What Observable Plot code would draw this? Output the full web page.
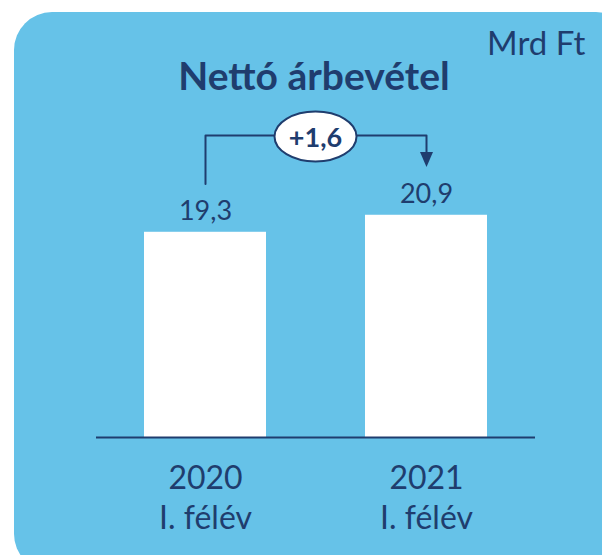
<!DOCTYPE html>
<html><head><meta charset="utf-8">
<script src="https://cdn.jsdelivr.net/npm/d3@7"></script>
<script src="https://cdn.jsdelivr.net/npm/@observablehq/plot@0.6"></script>
<style>
html,body{margin:0;padding:0;width:602px;height:555px;overflow:hidden;background:#fff;}
#bg{position:absolute;left:14px;top:12px;width:620px;height:560px;border-radius:38px;background:#66C2E8;}
#chart{position:absolute;left:0;top:0;}
.lbl{position:absolute;font-family:Lato,sans-serif;color:#1F3D6E;line-height:1;white-space:nowrap;}
#title{left:0;width:628px;text-align:center;top:56px;font-size:39px;font-weight:bold;}
#unit{left:487px;top:26px;font-size:33px;}
</style></head><body>
<div id="bg"></div>
<div id="chart"></div>
<div id="title" class="lbl">Nettó árbevétel</div>
<div id="unit" class="lbl">Mrd Ft</div>
<script>
const categories = ["2020\nI. félév", "2021\nI. félév"];
const values = [19.3, 20.9];
const valueLabels = ["19,3", "20,9"];
const changeLabel = "+1,6";

const navy = "#1F3D6E";
const font = "Lato, sans-serif";
const data = categories.map((c, i) => ({cat: c, value: values[i], label: valueLabels[i]}));

const clear = 4.55, rise = 7.5;
const bracketTop = d3.max(values) + rise;
const bracket = [
  {cat: categories[0], v: values[0] + clear},
  {cat: categories[0], v: bracketTop},
  {cat: categories[1], v: bracketTop},
  {cat: categories[1], v: values[1] + clear + 1.2}
];
const tip = [{cat: categories[1], v: values[1] + clear}];
const arrowHead = {draw(ctx) { ctx.moveTo(-6.5, -15); ctx.lineTo(6.5, -15); ctx.lineTo(0, 0); ctx.closePath(); }};

function changeBadge(index, scales) {
  const x = scales.x, y = scales.y;
  const bw = x.bandwidth ? x.bandwidth() : 0;
  const cx = (x(categories[0]) + x(categories[1])) / 2 + bw / 2;
  const cy = y(bracketTop) + 1.5;
  const g = d3.create("svg:g");
  g.append("ellipse").attr("cx", cx).attr("cy", cy).attr("rx", 41).attr("ry", 25)
    .attr("fill", "white").attr("stroke", navy).attr("stroke-width", 2);
  g.append("text").attr("x", cx).attr("y", cy + 10).attr("text-anchor", "middle")
    .attr("font-family", font).attr("font-weight", "bold").attr("font-size", 27)
    .attr("fill", navy).text(changeLabel);
  return g.node();
}

const chart = Plot.plot({
  width: 602, height: 555,
  marginLeft: 96, marginRight: 67, marginTop: 118, marginBottom: 118,
  x: {type: "band", domain: categories, paddingInner: 0.45, paddingOuter: 0.218, axis: null},
  y: {domain: [0, 30], axis: null},
  style: {background: "transparent", overflow: "visible", fontFamily: font},
  marks: [
    Plot.barY(data, {x: "cat", y: "value", fill: "white"}),
    Plot.ruleY([0], {stroke: navy, strokeWidth: 2}),
    Plot.text(data, {x: "cat", y: "value", text: "label", dy: -12, lineAnchor: "bottom",
      fontSize: 27, fill: navy, fontFamily: font}),
    Plot.text(data, {x: "cat", y: () => 0, text: "cat", lineAnchor: "top", dy: 23,
      fontSize: 32, lineHeight: 1.25, fill: navy, fontFamily: font}),
    Plot.line(bracket, {x: "cat", y: "v", stroke: navy, strokeWidth: 2, curve: "linear"}),
    Plot.dot(tip, {x: "cat", y: "v", symbol: arrowHead, fill: navy, stroke: "none"}),
    changeBadge
  ]
});
document.getElementById("chart").appendChild(chart);
</script>
</body></html>
